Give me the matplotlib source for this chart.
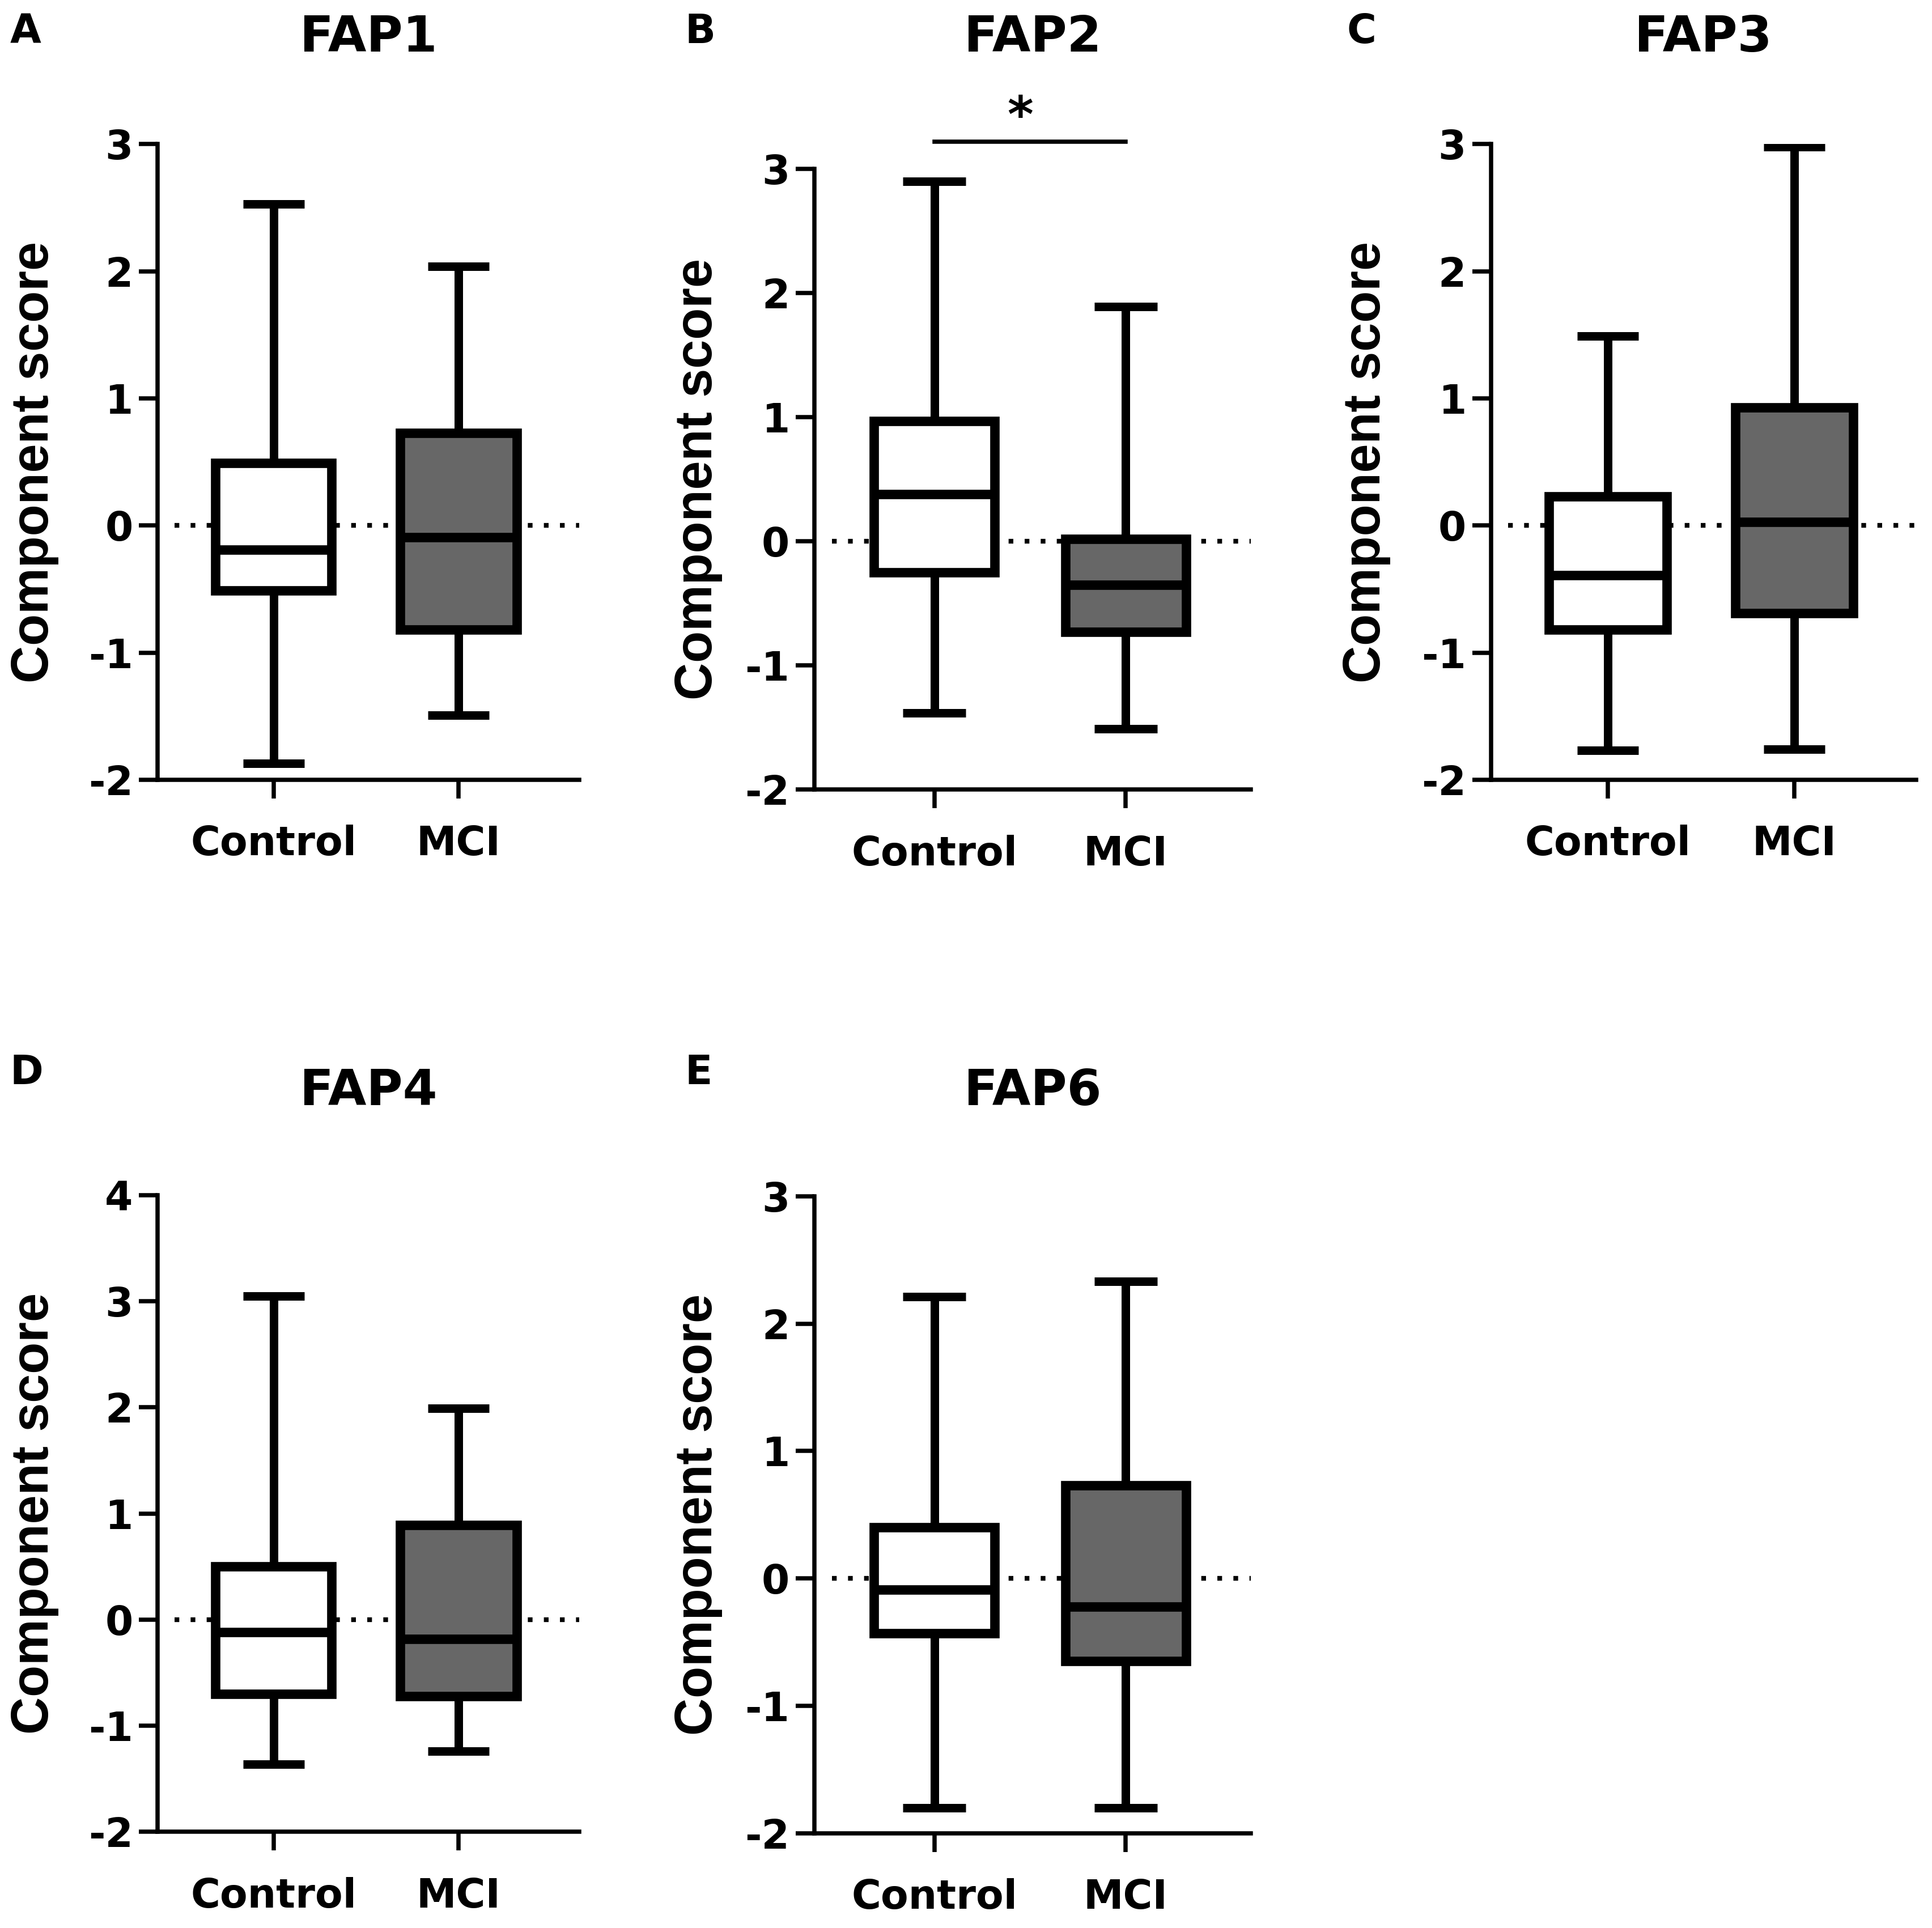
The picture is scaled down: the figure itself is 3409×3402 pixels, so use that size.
import matplotlib
matplotlib.use("Agg")
import matplotlib.pyplot as plt

plt.rcParams['font.family'] = ['Liberation Sans', 'DejaVu Sans']
plt.rcParams['font.weight'] = 'bold'
plt.rcParams['axes.unicode_minus'] = False

groups = ["Control", "MCI"]
titles = ["FAP1", "FAP2", "FAP3", "FAP4", "FAP6"]
letters = ["A", "B", "C", "D", "E"]

# per panel: [control, mci] as (min, q1, median, q3, max)
fap1 = [(-1.87, -0.51, -0.19, 0.49, 2.53), (-1.49, -0.82, -0.09, 0.73, 2.04)]
fap2 = [(-1.38, -0.25, 0.38, 0.97, 2.90), (-1.51, -0.73, -0.35, 0.02, 1.89)]
fap3 = [(-1.77, -0.82, -0.39, 0.23, 1.49), (-1.76, -0.69, 0.03, 0.93, 2.98)]
fap4 = [(-1.36, -0.70, -0.12, 0.50, 3.05), (-1.24, -0.72, -0.18, 0.89, 1.99)]
fap6 = [(-1.80, -0.43, -0.09, 0.40, 2.21), (-1.80, -0.65, -0.22, 0.73, 2.33)]
panels = [fap1, fap2, fap3, fap4, fap6]

ylims = [(-2, 3), (-2, 3), (-2, 3), (-2, 4), (-2, 3)]
fills = ["white", "#676767"]

W, H = 1568.0, 1565.0
# axes rectangles read in display pixels: left, right, top, bottom
rects = [(128, 470, 117, 633), (661, 1015, 137, 641), (1210, 1555, 117, 633),
         (128, 470, 970, 1487), (661, 1015, 971, 1488)]
letter_pos = [(8, 10), (556, 10), (1093, 10), (8, 855), (556, 855)]
title_y = [31, 31, 31, 886, 886]

wide = ['DejaVu Sans']

fig = plt.figure(figsize=(3409 / 300, 3402 / 300), dpi=300)

for i, data in enumerate(panels):
    l, r, t, b = rects[i]
    ax = fig.add_axes([l / W, 1 - b / H, (r - l) / W, (b - t) / H])
    stats = []
    for g, (lo, q1, med, q3, hi) in zip(groups, data):
        stats.append(dict(label=g, whislo=lo, q1=q1, med=med, q3=q3, whishi=hi, fliers=[]))
    bp = ax.bxp(stats, positions=[0, 1], widths=0.63, patch_artist=True,
                showfliers=False,
                boxprops=dict(linewidth=4.0, edgecolor="black"),
                medianprops=dict(linewidth=4.0, color="black"),
                whiskerprops=dict(linewidth=3.6, color="black"),
                capprops=dict(linewidth=3.6, color="black"),
                capwidths=0.33)
    for patch, c in zip(bp["boxes"], fills):
        patch.set_facecolor(c)
    for cap in bp["caps"]:
        cap.set_solid_capstyle("butt")
    ax.axhline(0, xmin=0.04, xmax=1.0, color="black", linestyle=(0, (1, 2.4)),
               linewidth=2.0, zorder=0.5)
    ax.set_xlim(-0.627, 1.653)
    ax.set_ylim(*ylims[i])
    ax.set_yticks(range(ylims[i][0], ylims[i][1] + 1))
    ax.set_xticks([0, 1])
    ax.set_xticklabels(groups)
    for s in ["top", "right"]:
        ax.spines[s].set_visible(False)
    for s in ["left", "bottom"]:
        ax.spines[s].set_linewidth(1.8)
    ax.tick_params(width=1.8, length=8, labelsize=17, pad=2.5)
    ax.tick_params(axis="x", pad=11)
    for lab in ax.get_xticklabels() + ax.get_yticklabels():
        lab.set_family(wide)
        lab.set_fontweight("bold")
    ax.set_ylabel("Component score", fontsize=22, fontweight="bold")
    ax.yaxis.set_label_coords(-0.235 if i not in (1, 4) else -0.21, 0.5)
    ax.patch.set_alpha(0)
    cx = (l + r) / 2 / W
    fig.text(cx, 1 - title_y[i] / H, titles[i], fontsize=21, fontweight="bold",
             family=wide, ha="center", va="center")
    lx, ly = letter_pos[i]
    fig.text(lx / W, 1 - ly / H, letters[i], fontsize=17, fontweight="bold",
             family=wide, ha="left", va="top")
    if i == 1:
        ax.plot([0, 1], [3.22, 3.22], color="black", linewidth=1.8, clip_on=False)
        ax.text(0.45, 3.22, "*", fontsize=21, fontweight="bold", family=wide,
                ha="center", va="bottom")

fig.savefig("out.png", dpi=300)
